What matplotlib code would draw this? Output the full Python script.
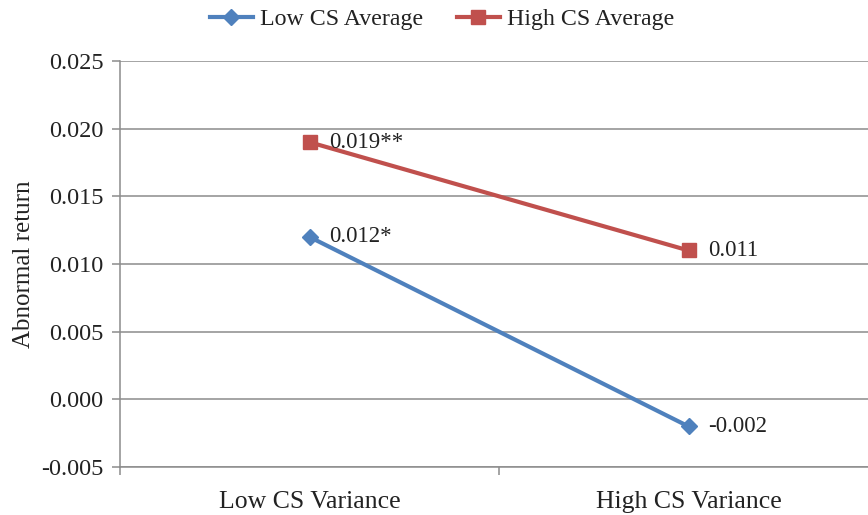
import matplotlib
matplotlib.use("Agg")
import matplotlib.pyplot as plt
from matplotlib.ticker import FixedLocator

categories = ["Low CS Variance", "High CS Variance"]
low_avg = [0.012, -0.002]
high_avg = [0.019, 0.011]
low_labels = ["0.012*", "-0.002"]
high_labels = ["0.019**", "0.011"]
series_names = ["Low CS Average", "High CS Average"]
yticks = [-0.005, 0.0, 0.005, 0.010, 0.015, 0.020, 0.025]

plt.rcParams['font.family'] = ['Liberation Serif', 'DejaVu Serif']

fig = plt.figure(figsize=(8.68, 5.15), dpi=100)
W, H = 868, 515
left, right, top, bottom = 120, 878, 61, 467
ax = fig.add_axes([left / W, 1 - bottom / H, (right - left) / W, (bottom - top) / H])

blue = "#4F81BD"
red = "#C0504D"
txt = "#222222"
x = list(range(len(categories)))
ax.plot(x, low_avg, color=blue, lw=3.0, marker="D", ms=8.5, label=series_names[0], zorder=3)
ax.plot(x, high_avg, color=red, lw=3.0, marker="s", ms=9.5, label=series_names[1], zorder=3)

for xi, v, t in zip(x, low_avg, low_labels):
    ax.annotate(t, (xi, v), xytext=(14, 0), textcoords="offset points",
                va="center", ha="left", fontsize=16.5, color=txt)
for xi, v, t in zip(x, high_avg, high_labels):
    ax.annotate(t, (xi, v), xytext=(14, 0), textcoords="offset points",
                va="center", ha="left", fontsize=16.5, color=txt)

ax.set_xlim(-0.5, 1.5)
ax.set_ylim(-0.005, 0.025)
ax.set_yticks(yticks)
ax.set_yticklabels([f"{v:.3f}" for v in yticks])
ax.yaxis.grid(True, color="#8c8c8c", lw=1.1)
ax.set_axisbelow(True)

ax.set_xticks(x)
ax.set_xticklabels(categories)
ax.xaxis.set_minor_locator(FixedLocator([-0.5, 0.5, 1.5]))
ax.tick_params(axis="x", which="major", length=0, pad=17, labelsize=18.5, labelcolor=txt)
ax.tick_params(axis="x", which="minor", length=6, color="#8c8c8c", width=1.1)
ax.tick_params(axis="y", length=6, color="#8c8c8c", width=1.1, labelsize=17.5, labelcolor=txt, pad=6)

for s in ["top", "right"]:
    ax.spines[s].set_visible(False)
for s in ["left", "bottom"]:
    ax.spines[s].set_color("#8c8c8c")
    ax.spines[s].set_linewidth(1.1)

ax.set_ylabel("Abnormal return", fontsize=18, color=txt, labelpad=4)

leg = fig.legend(loc="center", bbox_to_anchor=(442 / W, 1 - 19 / H), ncol=2, frameon=False,
                 fontsize=17.2, handlelength=1.8, columnspacing=1.4, handletextpad=0.3,
                 labelcolor=txt)

fig.savefig("out.png", dpi=100)
